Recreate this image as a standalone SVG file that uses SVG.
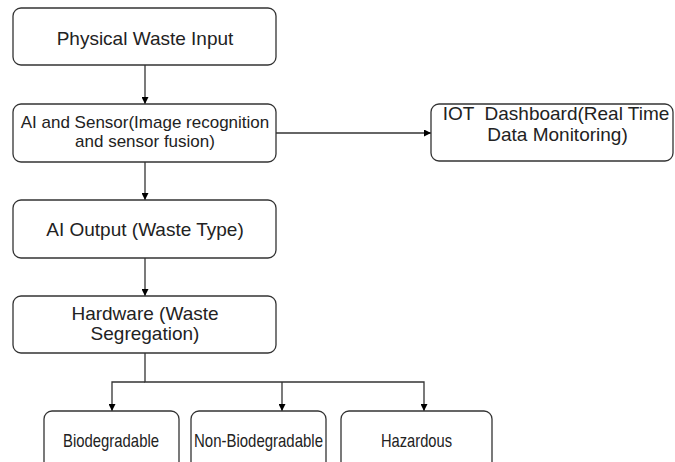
<svg xmlns="http://www.w3.org/2000/svg" width="675" height="462" viewBox="0 0 675 462">
<style>
.box{fill:#fff;stroke:#333;stroke-width:1.3}
.t{font-family:"Liberation Sans",Arial,sans-serif;font-size:19px;fill:#222;text-anchor:middle}
.s{font-size:17px}
.b{font-size:19px}
.c{fill:none;stroke:#333;stroke-width:1.3}
</style>
<defs>
<marker id="ah" viewBox="0 0 10 10" refX="10" refY="5" markerWidth="7" markerHeight="7" markerUnits="userSpaceOnUse" orient="auto">
<path d="M0,0 L10,5 L0,10 Z" fill="#000"/>
</marker>
</defs>
<g id="connectors">
<path class="c" d="M145,65 V104" marker-end="url(#ah)"/>
<path class="c" d="M145,162 V200" marker-end="url(#ah)"/>
<path class="c" d="M145,258 V296" marker-end="url(#ah)"/>
<path class="c" d="M276,133 H431" marker-end="url(#ah)"/>
<path class="c" d="M145,353 V382 H424 V411" marker-end="url(#ah)"/>
<path class="c" d="M145,382 H112 V411" marker-end="url(#ah)"/>
<path class="c" d="M282,382 V411" marker-end="url(#ah)"/>
</g>
<g id="n1"><rect class="box" x="13" y="8" width="263" height="57" rx="8"/><text class="t" x="145" y="45">Physical Waste Input</text></g>
<g id="n2"><rect class="box" x="13" y="104" width="263" height="58" rx="8"/><text class="t s" x="145" y="128">AI and Sensor(Image recognition</text><text class="t s" x="145" y="147">and sensor fusion)</text></g>
<g id="n3"><rect class="box" x="431" y="104" width="242" height="57" rx="8"/><text class="t" x="556" y="120" xml:space="preserve">IOT  Dashboard(Real Time</text><text class="t" x="557.5" y="141">Data Monitoring)</text></g>
<g id="n4"><rect class="box" x="13" y="200" width="263" height="58" rx="8"/><text class="t" x="145" y="236">AI Output (Waste Type)</text></g>
<g id="n5"><rect class="box" x="13" y="296" width="263" height="57" rx="8"/><text class="t" x="145" y="320">Hardware (Waste</text><text class="t" x="145" y="340">Segregation)</text></g>
<g id="n6"><rect class="box" x="44" y="411" width="135" height="70" rx="8"/><text class="t b" x="111" y="447" textLength="96" lengthAdjust="spacingAndGlyphs">Biodegradable</text></g>
<g id="n7"><rect class="box" x="191" y="411" width="135" height="70" rx="8"/><text class="t b" x="258.5" y="447" textLength="129" lengthAdjust="spacingAndGlyphs">Non-Biodegradable</text></g>
<g id="n8"><rect class="box" x="341" y="411" width="151" height="70" rx="8"/><text class="t b" x="416.5" y="447" textLength="71" lengthAdjust="spacingAndGlyphs">Hazardous</text></g>
</svg>
